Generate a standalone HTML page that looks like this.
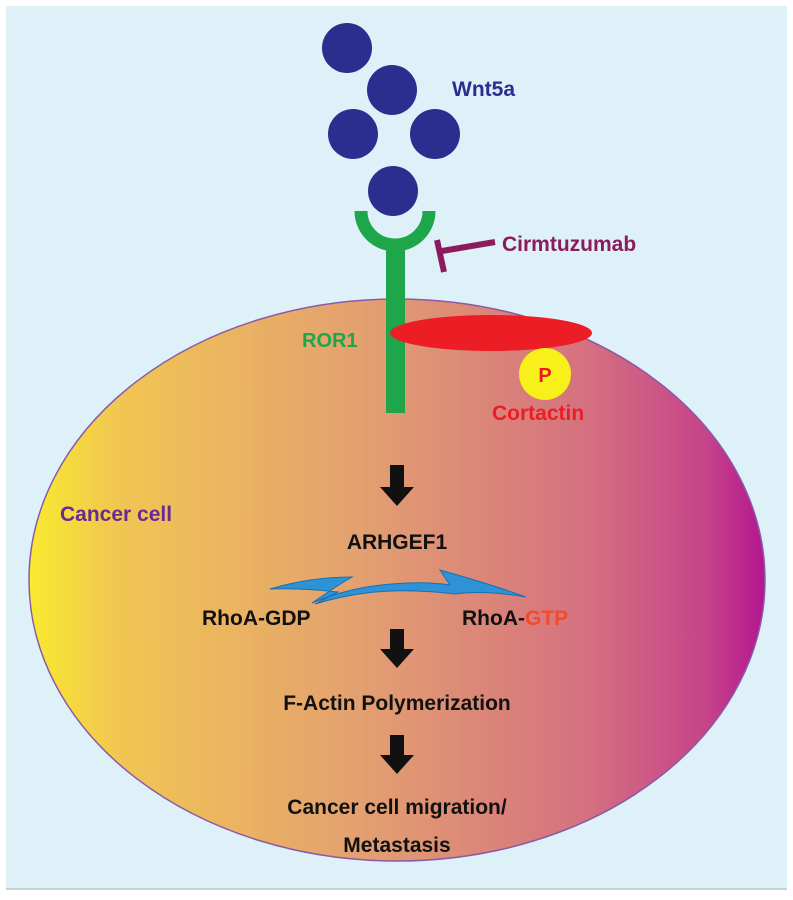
<!DOCTYPE html>
<html><head><meta charset="utf-8"><style>
html,body{margin:0;padding:0;background:#fff}
svg{display:block}
text{font-family:"Liberation Sans",sans-serif;font-weight:bold}
</style></head><body>
<svg width="793" height="900" viewBox="0 0 793 900">
<defs>
<linearGradient id="cell" x1="0" x2="1" y1="0" y2="0">
<stop offset="0" stop-color="#f9ea2e"/>
<stop offset="0.12" stop-color="#f1c652"/>
<stop offset="0.45" stop-color="#e3a070"/>
<stop offset="0.75" stop-color="#d5727f"/>
<stop offset="0.92" stop-color="#c64489"/>
<stop offset="1" stop-color="#b31690"/>
</linearGradient>
</defs>
<rect x="0" y="0" width="793" height="900" fill="#fff"/>
<rect x="6" y="6" width="781" height="884" fill="#def0f8"/>
<line x1="6" y1="889" x2="787" y2="889" stroke="#b8c8d0" stroke-width="1.5"/>
<ellipse cx="397" cy="580" rx="368" ry="281" fill="url(#cell)" stroke="#8a5aa8" stroke-width="1.5"/>
<g fill="#2b2e8e">
<circle cx="347" cy="48" r="25"/><circle cx="392" cy="90" r="25"/>
<circle cx="353" cy="134" r="25"/><circle cx="435" cy="134" r="25"/>
<circle cx="393" cy="191" r="25"/>
</g>
<text x="452" y="96" font-size="21" fill="#2b2e8e">Wnt5a</text>
<g>
<path d="M361 211 A34 34 0 0 0 429 211" fill="none" stroke="#1fa64a" stroke-width="13"/>
<rect x="386" y="240" width="19" height="173" fill="#1fa64a"/>
</g>
<text x="302" y="347" font-size="20" fill="#1fa64a">ROR1</text>
<g stroke="#8e1a5e" stroke-width="6">
<line x1="442" y1="251" x2="495" y2="242"/>
<line x1="437" y1="240" x2="444" y2="272"/>
</g>
<text x="502" y="251" font-size="21" fill="#8e1a5e">Cirmtuzumab</text>
<ellipse cx="491" cy="333" rx="101" ry="18" fill="#ec1d24"/>
<circle cx="545" cy="374" r="26" fill="#f7f01a"/>
<text x="545" y="382" font-size="20" fill="#e81d24" text-anchor="middle">P</text>
<text x="492" y="420" font-size="21" fill="#ec1d24">Cortactin</text>
<text x="60" y="521" font-size="21" fill="#6a2b8e">Cancer cell</text>
<g fill="#111">
<path d="M390 465 h14 v22 h10 l-17 19 l-17 -19 h10z"/>
<path d="M390 629 h14 v20 h10 l-17 19 l-17 -19 h10z"/>
<path d="M390 735 h14 v20 h10 l-17 19 l-17 -19 h10z"/>
</g>
<text x="397" y="549" font-size="21" fill="#111" text-anchor="middle">ARHGEF1</text>
<path d="M270 589 Q310 577 352 577 Q338 585 312 603 Q350 587 392 584 Q425 581 450 585 Q445 578 440 570 Q490 584 526 597 Q485 590 455 594 Q420 590 392 591 Q355 592 315 604 Q330 596 338 592 Q300 588 270 589Z" fill="#2d92d6" stroke="#1a6fb0" stroke-width="1"/>
<text x="202" y="625" font-size="21" fill="#111">RhoA-GDP</text>
<text x="462" y="625" font-size="21" fill="#111">RhoA-<tspan fill="#f04b2a">GTP</tspan></text>
<text x="397" y="710" font-size="21" fill="#111" text-anchor="middle">F-Actin Polymerization</text>
<text x="397" y="814" font-size="21" fill="#111" text-anchor="middle">Cancer cell migration/</text>
<text x="397" y="852" font-size="21" fill="#111" text-anchor="middle">Metastasis</text>
</svg>
</body></html>
